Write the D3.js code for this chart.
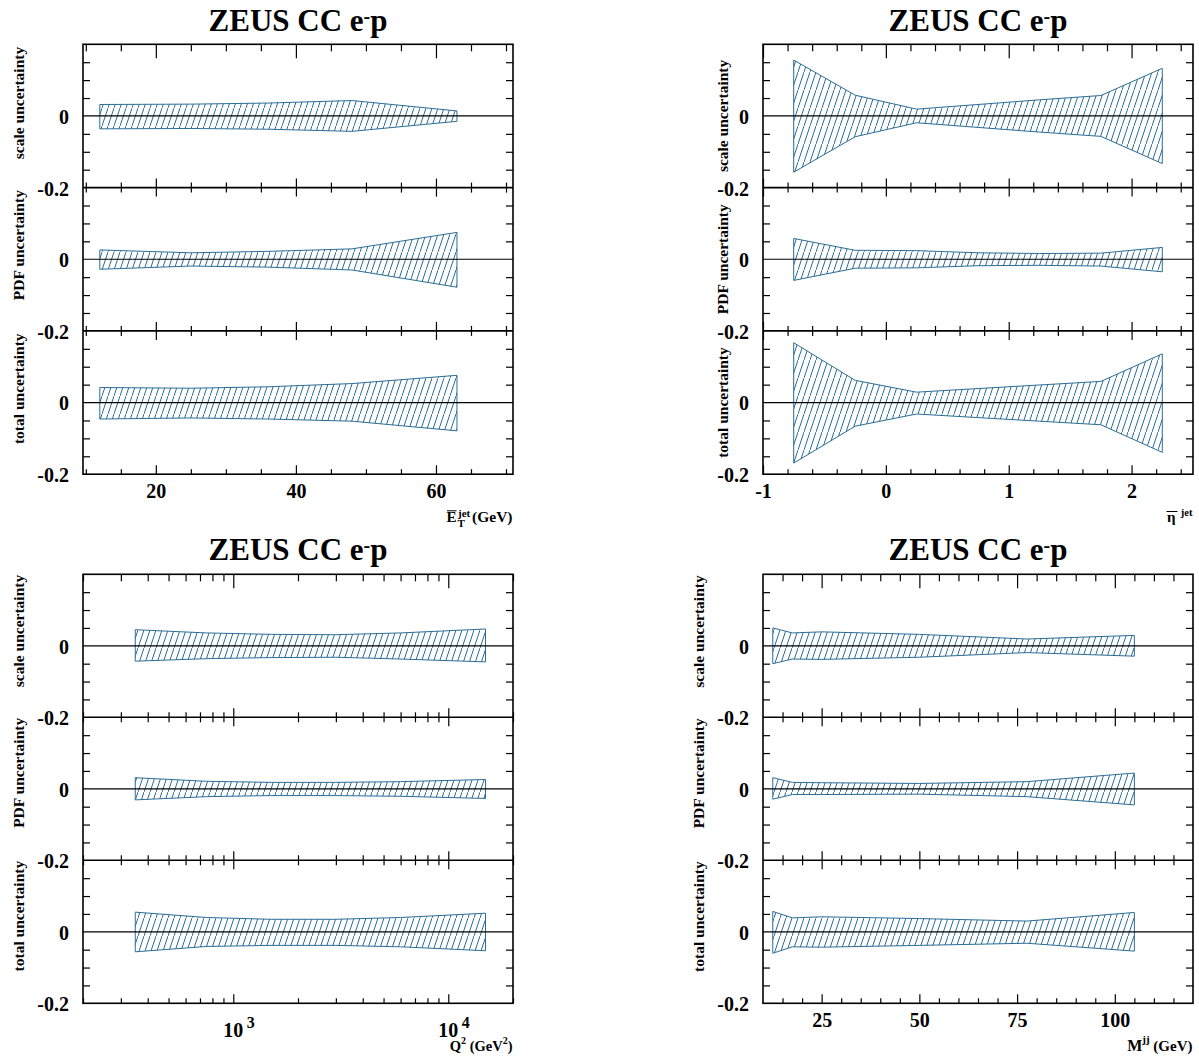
<!DOCTYPE html>
<html><head><meta charset="utf-8">
<script src="https://cdn.jsdelivr.net/npm/d3@7"></script>
<style>
body{margin:0;background:#fff}
text{font-family:"Liberation Serif","Times New Roman",serif;font-weight:bold;fill:#000}
</style>
</head><body>
<svg id="c" width="1199" height="1059"></svg>
<script>
// ---------------- data ----------------
const rowLabels = ["scale uncertainty", "PDF uncertainty", "total uncertainty"];
const yTickValues = [0, -0.2];
const yTickLabels = ["0", "-0.2"];
const yMinorTicks = [-0.15, -0.1, -0.05, 0.05, 0.1, 0.15];

// E_T^jet panel
const etX = [12, 25, 36, 48, 63];
const etScaleUp = [0.032, 0.033, 0.036, 0.043, 0.014];
const etScaleDn = [0.036, 0.035, 0.037, 0.043, 0.015];
const etPdfUp   = [0.026, 0.018, 0.022, 0.029, 0.075];
const etPdfDn   = [0.028, 0.019, 0.022, 0.030, 0.078];
const etTotUp   = [0.042, 0.040, 0.044, 0.053, 0.076];
const etTotDn   = [0.046, 0.043, 0.046, 0.052, 0.079];
const etMajor = [20, 40, 60];
const etMajorLabels = ["20", "40", "60"];
const etMinor = [10, 15, 25, 30, 35, 45, 50, 55, 65, 70];

// eta^jet panel
const etaX = [-0.75, -0.25, 0.25, 0.75, 1.25, 1.75, 2.25];
const etaScaleUp = [0.156, 0.058, 0.019, 0.032, 0.045, 0.057, 0.133];
const etaScaleDn = [0.157, 0.058, 0.019, 0.032, 0.045, 0.057, 0.133];
const etaPdfUp   = [0.058, 0.025, 0.024, 0.018, 0.016, 0.017, 0.033];
const etaPdfDn   = [0.059, 0.025, 0.024, 0.018, 0.017, 0.019, 0.035];
const etaTotUp   = [0.167, 0.062, 0.029, 0.039, 0.049, 0.059, 0.136];
const etaTotDn   = [0.169, 0.066, 0.032, 0.042, 0.052, 0.062, 0.139];
const etaMajor = [-1, 0, 1, 2];
const etaMajorLabels = ["-1", "0", "1", "2"];
const etaMinor = [-0.8, -0.6, -0.4, -0.2, 0.2, 0.4, 0.6, 0.8, 1.2, 1.4, 1.6, 1.8, 2.2, 2.4];

// Q^2 panel
const q2X = [350, 750, 1500, 3000, 6000, 14900];
const q2ScaleUp = [0.045, 0.036, 0.032, 0.031, 0.036, 0.047];
const q2ScaleDn = [0.043, 0.036, 0.033, 0.032, 0.037, 0.045];
const q2PdfUp   = [0.031, 0.021, 0.018, 0.018, 0.020, 0.026];
const q2PdfDn   = [0.031, 0.022, 0.019, 0.019, 0.021, 0.027];
const q2TotUp   = [0.055, 0.040, 0.035, 0.035, 0.040, 0.052];
const q2TotDn   = [0.056, 0.041, 0.038, 0.038, 0.042, 0.053];
const q2Major = [1000, 10000];
const q2MajorExp = ["3", "4"];
const q2Minor = [200, 300, 400, 500, 600, 700, 800, 900, 2000, 3000, 4000, 5000, 6000, 7000, 8000, 9000, 20000];

// M^jj panel
const mjjX = [12.5, 17.5, 25, 50, 77.5, 105];
const mjjScaleUp = [0.050, 0.036, 0.039, 0.032, 0.019, 0.029];
const mjjScaleDn = [0.050, 0.037, 0.038, 0.032, 0.019, 0.029];
const mjjPdfUp   = [0.031, 0.018, 0.017, 0.015, 0.020, 0.044];
const mjjPdfDn   = [0.029, 0.016, 0.016, 0.015, 0.022, 0.045];
const mjjTotUp   = [0.057, 0.039, 0.042, 0.037, 0.030, 0.054];
const mjjTotDn   = [0.060, 0.042, 0.043, 0.038, 0.032, 0.054];
const mjjMajor = [25, 50, 75, 100];
const mjjMajorLabels = ["25", "50", "75", "100"];
const mjjMinor = [15, 20, 30, 35, 40, 45, 55, 60, 65, 70, 80, 85, 90, 95, 105, 110, 115];

// ---------------- drawing ----------------
const BLUE = "#2c6d95";
const svg = d3.select("#c");
const defs = svg.append("defs");
const pat = defs.append("pattern").attr("id", "hatch").attr("patternUnits", "userSpaceOnUse")
  .attr("width", 6).attr("height", 18);
pat.append("path").attr("d", "M-0.6,19.8 L6.6,-1.8").attr("stroke", BLUE).attr("stroke-width", 1).attr("fill", "none");

const panels = [
  {x0: 83, x1: 513, top: 44.3, h: 143.3, domain: [9.6, 71], log: false, xs: etX,
   up: [etScaleUp, etPdfUp, etTotUp], dn: [etScaleDn, etPdfDn, etTotDn],
   major: etMajor, labels: etMajorLabels, minor: etMinor, labMode: "top", labX: 24, labOff: 2.5, titleY: 31},
  {x0: 763, x1: 1193, top: 44.3, h: 143.3, domain: [-1, 2.5], log: false, xs: etaX,
   up: [etaScaleUp, etaPdfUp, etaTotUp], dn: [etaScaleDn, etaPdfDn, etaTotDn],
   major: etaMajor, labels: etaMajorLabels, minor: etaMinor, labMode: "mid", labX: 728, labOff: 0, titleY: 31},
  {x0: 83, x1: 513, top: 574.3, h: 143, domain: [200, 20000], log: true, xs: q2X,
   up: [q2ScaleUp, q2PdfUp, q2TotUp], dn: [q2ScaleDn, q2PdfDn, q2TotDn],
   major: q2Major, labels: q2MajorExp, minor: q2Minor, labMode: "top", labX: 24, labOff: 0.5, titleY: 560},
  {x0: 763, x1: 1193, top: 574.3, h: 143, domain: [10, 120], log: false, xs: mjjX,
   up: [mjjScaleUp, mjjPdfUp, mjjTotUp], dn: [mjjScaleDn, mjjPdfDn, mjjTotDn],
   major: mjjMajor, labels: mjjMajorLabels, minor: mjjMinor, labMode: "top", labX: 704, labOff: 1, titleY: 560}
];

function clean(sel) {
  sel.select(".domain").remove();
  sel.attr("font-family", null).attr("font-size", null);
  sel.selectAll(".tick line").attr("stroke", "#000").attr("stroke-width", 1.2);
  return sel;
}

panels.forEach(p => {
  const g = svg.append("g");
  const x = (p.log ? d3.scaleLog() : d3.scaleLinear()).domain(p.domain).range([p.x0, p.x1]);
  const bottom = p.top + 3 * p.h;

  for (let i = 0; i < 3; i++) {
    const t = p.top + i * p.h;
    const y = d3.scaleLinear().domain([-0.2, 0.2]).range([t + p.h, t]);
    const data = p.xs.map((v, j) => ({x: v, u: p.up[i][j], d: p.dn[i][j]}));
    const area = d3.area().x(d => x(d.x)).y0(d => y(-d.d)).y1(d => y(d.u));
    g.append("path").datum(data).attr("d", area)
      .attr("fill", "url(#hatch)").attr("stroke", BLUE).attr("stroke-width", 1);
    g.append("line").attr("x1", p.x0).attr("x2", p.x1).attr("y1", y(0)).attr("y2", y(0))
      .attr("stroke", "#000").attr("stroke-width", 1.2);

    g.append("g").attr("transform", `translate(${p.x0},0)`)
      .call(d3.axisLeft(y).tickValues(yMinorTicks).tickSize(-7).tickFormat("")).call(clean);
    g.append("g").attr("transform", `translate(${p.x1},0)`)
      .call(d3.axisRight(y).tickValues(yMinorTicks).tickSize(-7).tickFormat("")).call(clean);
    const yl = g.append("g").attr("transform", `translate(${p.x0},0)`)
      .call(d3.axisLeft(y).tickValues(yTickValues).tickSize(0).tickPadding(14)
        .tickFormat((d, k) => yTickLabels[k])).call(clean);
    yl.selectAll("text").attr("font-size", 20).attr("dy", "0.37em");

    const ly = p.labMode === "top" ? t + p.labOff : t + p.h / 2;
    g.append("text").attr("transform", `translate(${p.labX},${ly}) rotate(-90)`)
      .attr("text-anchor", p.labMode === "top" ? "end" : "middle")
      .attr("font-size", 15.5).text(rowLabels[i]);
  }

  g.append("rect").attr("x", p.x0).attr("y", p.top).attr("width", p.x1 - p.x0).attr("height", 3 * p.h)
    .attr("fill", "none").attr("stroke", "#000").attr("stroke-width", 1.6);
  for (let i = 1; i < 3; i++) {
    const yy = p.top + i * p.h;
    g.append("line").attr("x1", p.x0).attr("x2", p.x1).attr("y1", yy).attr("y2", yy)
      .attr("stroke", "#000").attr("stroke-width", 1.6);
  }

  const addTicks = (yy, axisFn, vals, size) => {
    g.append("g").attr("transform", `translate(0,${yy})`)
      .call(axisFn(x).tickValues(vals).tickSize(size).tickFormat("")).call(clean);
  };
  addTicks(p.top, d3.axisBottom, p.minor, 7);
  addTicks(p.top, d3.axisBottom, p.major, 14);
  for (let i = 1; i < 3; i++) {
    const yy = p.top + i * p.h;
    addTicks(yy, d3.axisBottom, p.minor, 5);
    addTicks(yy, d3.axisTop, p.minor, 5);
    addTicks(yy, d3.axisBottom, p.major, 9);
    addTicks(yy, d3.axisTop, p.major, 9);
  }
  addTicks(bottom, d3.axisTop, p.minor, 5);
  addTicks(bottom, d3.axisTop, p.major, 9);

  if (!p.log) {
    const xl = g.append("g").attr("transform", `translate(0,${bottom})`)
      .call(d3.axisBottom(x).tickValues(p.major).tickSize(0).tickFormat((d, k) => p.labels[k])).call(clean);
    xl.selectAll("text").attr("font-size", 20).attr("dy", null).attr("y", 24);
  } else {
    g.append("g").attr("transform", `translate(0,${bottom})`)
      .call(d3.axisBottom(x).tickValues(p.major).tickSize(0).tickFormat("")).call(clean);
    p.major.forEach((v, k) => {
      g.append("text").attr("x", x(v)).attr("y", bottom + 34).attr("text-anchor", "middle")
        .attr("font-size", 20).text("10");
      g.append("text").attr("x", x(v) + 13.5).attr("y", bottom + 24.5).attr("text-anchor", "start")
        .attr("font-size", 16).text(p.labels[k]);
    });
  }

  const tt = g.append("text").attr("x", (p.x0 + p.x1) / 2).attr("y", p.titleY)
    .attr("text-anchor", "middle").attr("font-size", 31);
  tt.append("tspan").text("ZEUS CC e");
  tt.append("tspan").attr("dy", -8).attr("font-size", 20).text("-");
  tt.append("tspan").attr("dy", 8).attr("font-size", 31).text("p");
});

// x axis titles
(function () {
  const g = svg.append("g");
  g.append("text").attr("x", 446.5).attr("y", 521.7).attr("font-size", 15).text("E");
  g.append("line").attr("x1", 447).attr("x2", 456.5).attr("y1", 510.8).attr("y2", 510.8)
    .attr("stroke", "#000").attr("stroke-width", 1);
  g.append("text").attr("x", 457.5).attr("y", 527).attr("font-size", 11).text("T");
  g.append("text").attr("x", 458).attr("y", 517).attr("font-size", 11).text("jet");
  g.append("text").attr("x", 512.5).attr("y", 521.7).attr("text-anchor", "end").attr("font-size", 15.5).text("(GeV)");
})();
(function () {
  const g = svg.append("g");
  g.append("text").attr("x", 1167).attr("y", 521.7).attr("font-size", 15).attr("font-weight", "normal").text("η");
  g.append("line").attr("x1", 1166.5).attr("x2", 1177.5).attr("y1", 511.5).attr("y2", 511.5)
    .attr("stroke", "#000").attr("stroke-width", 1);
  g.append("text").attr("x", 1192.5).attr("y", 516).attr("text-anchor", "end").attr("font-size", 10.5).text("jet");
})();
(function () {
  const t = svg.append("text").attr("x", 512.5).attr("y", 1051).attr("text-anchor", "end").attr("font-size", 14.5);
  t.append("tspan").text("Q");
  t.append("tspan").attr("dy", -7).attr("font-size", 10).text("2");
  t.append("tspan").attr("dy", 7).attr("font-size", 14.5).text(" (GeV");
  t.append("tspan").attr("dy", -7).attr("font-size", 10).text("2");
  t.append("tspan").attr("dy", 7).attr("font-size", 14.5).text(")");
})();
(function () {
  const t = svg.append("text").attr("x", 1192.5).attr("y", 1050.5).attr("text-anchor", "end").attr("font-size", 16);
  t.append("tspan").text("M");
  t.append("tspan").attr("dy", -8).attr("font-size", 11).text("jj");
  t.append("tspan").attr("dy", 8).attr("font-size", 15).text(" (GeV)");
})();
</script>
</body></html>
